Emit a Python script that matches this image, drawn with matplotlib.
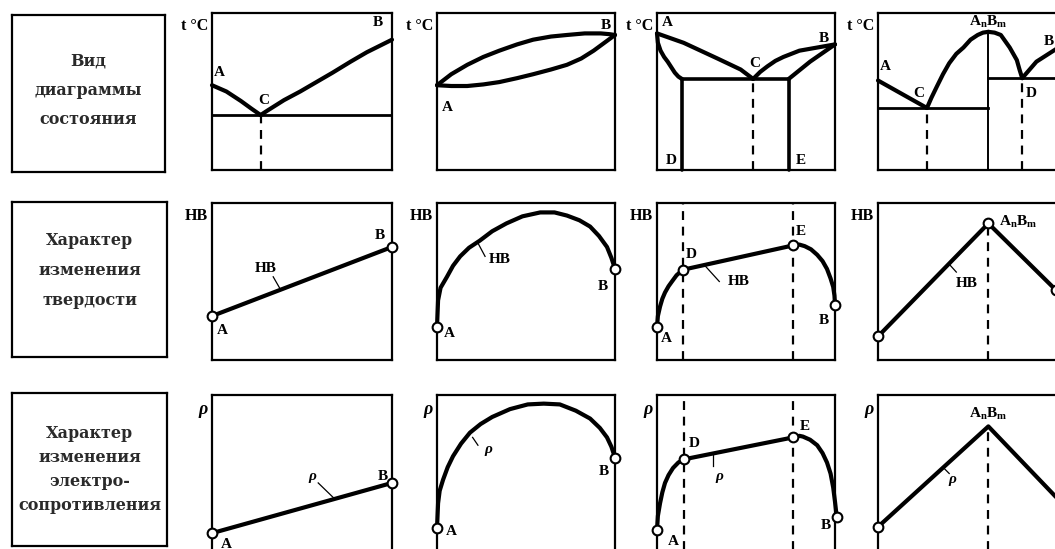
import matplotlib
matplotlib.use('Agg')
import matplotlib.pyplot as plt

plt.rcParams['font.family'] = ['Liberation Serif', 'DejaVu Serif']
plt.rcParams['font.weight'] = 'bold'
plt.rcParams['mathtext.fontset'] = 'custom'
plt.rcParams['mathtext.rm'] = 'Liberation Serif:bold'
plt.rcParams['mathtext.it'] = 'Liberation Serif:bold:italic'

W, H = 1055, 549

# Row titles
row_titles = ['Вид\nдиаграммы\nсостояния',
              'Характер\nизменения\nтвердости',
              'Характер\nизменения\nэлектро-\nсопротивления']
row_axis_labels = ['t °C', 'HB', 'ρ']

# --- Row 1: phase diagrams (x = composition, y = temperature, 0..1) ---
# 1) eutectic
eut_liq_left_x = [0.0, 0.08, 0.16, 0.22, 0.27]
eut_liq_left_y = [0.54, 0.50, 0.44, 0.39, 0.35]
eut_liq_right_x = [0.27, 0.31, 0.40, 0.49, 0.58, 0.67, 0.77, 0.86, 0.93, 1.0]
eut_liq_right_y = [0.35, 0.38, 0.445, 0.50, 0.56, 0.62, 0.69, 0.75, 0.79, 0.83]
eut_line_y = 0.35
eut_point_x = 0.27

# 2) continuous solid solution (lens)
lens_liq_x = [0.0, 0.08, 0.17, 0.26, 0.35, 0.45, 0.54, 0.64, 0.73, 0.83, 0.92, 0.97, 1.0]
lens_liq_y = [0.54, 0.61, 0.67, 0.72, 0.76, 0.80, 0.83, 0.85, 0.86, 0.87, 0.87, 0.865, 0.86]
lens_sol_x = [0.0, 0.08, 0.17, 0.26, 0.35, 0.45, 0.54, 0.64, 0.73, 0.81, 0.88, 0.94, 1.0]
lens_sol_y = [0.54, 0.535, 0.535, 0.545, 0.56, 0.585, 0.61, 0.64, 0.67, 0.71, 0.76, 0.81, 0.86]

# 3) limited solubility
lim_liq_left_x = [0.0, 0.15, 0.34, 0.47, 0.54]
lim_liq_left_y = [0.87, 0.81, 0.71, 0.64, 0.58]
lim_sol_left_x = [0.0, 0.005, 0.02, 0.04, 0.06, 0.08, 0.10, 0.12, 0.14]
lim_sol_left_y = [0.87, 0.81, 0.76, 0.72, 0.69, 0.655, 0.62, 0.595, 0.58]
lim_liq_right_x = [0.54, 0.58, 0.62, 0.665, 0.71, 0.755, 0.80, 0.85, 0.90, 0.95, 1.0]
lim_liq_right_y = [0.58, 0.625, 0.66, 0.695, 0.72, 0.74, 0.76, 0.77, 0.78, 0.79, 0.80]
lim_sol_right_x = [0.74, 0.86, 1.0]
lim_sol_right_y = [0.58, 0.69, 0.80]
lim_line_y = 0.58
lim_d_x, lim_e_x, lim_c_x = 0.14, 0.74, 0.54

# 4) chemical compound
cmp_left_x = [0.0, 0.275]
cmp_left_y = [0.57, 0.395]
cmp_rise_x = [0.275, 0.30, 0.33, 0.365, 0.40, 0.44, 0.48, 0.52, 0.56, 0.59, 0.62]
cmp_rise_y = [0.395, 0.46, 0.53, 0.61, 0.68, 0.74, 0.78, 0.83, 0.86, 0.875, 0.88]
cmp_fall_x = [0.62, 0.655, 0.69, 0.715, 0.74, 0.76, 0.78, 0.795, 0.81]
cmp_fall_y = [0.88, 0.875, 0.86, 0.82, 0.78, 0.74, 0.70, 0.64, 0.585]
cmp_right_x = [0.81, 0.89, 1.0]
cmp_right_y = [0.585, 0.69, 0.77]
cmp_c_y = 0.395
cmp_d_y = 0.585
cmp_c_x, cmp_d_x, cmp_peak_x = 0.275, 0.81, 0.62

# --- Row 2: hardness HB ---
hb1_x = [0.0, 1.0]
hb1_y = [0.28, 0.72]
hb2_x = [0.0, 0.006, 0.02, 0.056, 0.09, 0.13, 0.18, 0.24, 0.31, 0.39, 0.48, 0.58,
         0.66, 0.73, 0.80, 0.86, 0.91, 0.955, 0.98, 1.0]
hb2_y = [0.21, 0.38, 0.46, 0.53, 0.60, 0.66, 0.715, 0.76, 0.82, 0.87, 0.915, 0.94,
         0.94, 0.92, 0.89, 0.85, 0.79, 0.72, 0.65, 0.58]
hb3_ad_x = [0.0, 0.005, 0.017, 0.03, 0.045, 0.065, 0.084, 0.11, 0.146]
hb3_ad_y = [0.21, 0.28, 0.34, 0.39, 0.43, 0.47, 0.50, 0.54, 0.575]
hb3_de_x = [0.146, 0.765]
hb3_de_y = [0.575, 0.73]
hb3_eb_x = [0.765, 0.80, 0.83, 0.865, 0.90, 0.93, 0.955, 0.975, 0.99, 0.997, 1.0]
hb3_eb_y = [0.73, 0.735, 0.725, 0.705, 0.67, 0.63, 0.58, 0.52, 0.465, 0.41, 0.35]
hb4_x = [0.0, 0.62, 1.0]
hb4_y = [0.15, 0.87, 0.445]

# --- Row 3: electrical resistivity rho ---
rho1_x = [0.0, 1.0]
rho1_y = [0.12, 0.44]
rho2_x = [0.0, 0.006, 0.015, 0.034, 0.06, 0.09, 0.135, 0.185, 0.245, 0.31, 0.41, 0.51,
          0.60, 0.69, 0.78, 0.86, 0.915, 0.955, 0.98, 1.0]
rho2_y = [0.15, 0.31, 0.39, 0.46, 0.54, 0.61, 0.69, 0.76, 0.815, 0.86, 0.91, 0.94,
          0.945, 0.94, 0.90, 0.85, 0.79, 0.73, 0.67, 0.60]
rho3_ad_x = [0.0, 0.005, 0.017, 0.03, 0.045, 0.065, 0.09, 0.12, 0.15]
rho3_ad_y = [0.14, 0.23, 0.31, 0.38, 0.44, 0.49, 0.535, 0.57, 0.59]
rho3_de_x = [0.15, 0.765]
rho3_de_y = [0.59, 0.73]
rho3_eb_x = [0.765, 0.80, 0.82, 0.86, 0.90, 0.93, 0.955, 0.975, 0.99, 1.0, 1.01]
rho3_eb_y = [0.73, 0.74, 0.735, 0.715, 0.68, 0.63, 0.57, 0.50, 0.41, 0.32, 0.22]
rho4_x = [0.0, 0.62, 1.0]
rho4_y = [0.16, 0.80, 0.35]

# layout in pixels
col_x = [212, 437, 657, 878]
col_w = [180, 178, 178, 178]
row_y = [13, 203, 395]
row_h = 157
box_rects = [(12, 15, 153, 157), (12, 202, 155, 155), (12, 393, 155, 153)]

LW = 3.0
FS = 11

fig = plt.figure(figsize=(W / 100, H / 100), dpi=100)


def px_axes(left, top, width, height):
    ax = fig.add_axes([left / W, 1 - (top + height) / H, width / W, height / H])
    ax.set_xlim(0, 1)
    ax.set_ylim(0, 1)
    ax.set_xticks([])
    ax.set_yticks([])
    for s in ax.spines.values():
        s.set_linewidth(1.6)
    return ax


def curve(ax, x, y, lw=LW):
    ax.plot(x, y, color='black', lw=lw, solid_capstyle='round',
            solid_joinstyle='round', clip_on=False, zorder=3)


def vdash(ax, x, y0, y1):
    ax.plot([x, x], [y0, y1], color='black', lw=1.6, dashes=(4, 3), zorder=2)


def circles(ax, x, y):
    ax.plot(x, y, 'o', mfc='white', mec='black', ms=7, mew=1.5,
            clip_on=False, zorder=5)


def lab(ax, x, y, s, **kw):
    ax.text(x, y, s, fontsize=FS, fontweight='bold', ha='center', va='center', **kw)


def leader(ax, x0, y0, x1, y1):
    ax.plot([x0, x1], [y0, y1], color='black', lw=0.9, zorder=2)


# row title boxes
for (l, t, w, h), title, ls, yc in zip(box_rects, row_titles, [1.95, 2.0, 1.55], [0.52, 0.555, 0.50]):
    bx = px_axes(l, t, w, h)
    bx.text(0.5, yc, title, ha='center', va='center', family='DejaVu Serif',
            fontsize=11.5, fontweight='bold', linespacing=ls, color='#2a2a2a')

axes = [[px_axes(col_x[c], row_y[r], col_w[c], row_h) for c in range(4)] for r in range(3)]

# axis labels left of each panel
for r in range(3):
    for c in range(4):
        xpx = col_x[c] - 4
        ypx = row_y[r] + (13 if r < 2 else 14)
        if r == 2:
            fig.text(xpx / W, 1 - ypx / H, row_axis_labels[r], ha='right', va='center',
                     fontsize=13, fontweight='bold', fontstyle='italic')
        else:
            fig.text(xpx / W, 1 - ypx / H, row_axis_labels[r], ha='right', va='center',
                     fontsize=11.5, fontweight='bold')

# ---------- row 1 ----------
ax = axes[0][0]
curve(ax, eut_liq_left_x, eut_liq_left_y)
curve(ax, eut_liq_right_x, eut_liq_right_y)
ax.plot([0, 1], [eut_line_y, eut_line_y], color='black', lw=2.0)
vdash(ax, eut_point_x, 0, eut_line_y)
lab(ax, 0.04, 0.62, 'A')
lab(ax, 0.29, 0.44, 'C')
lab(ax, 0.92, 0.94, 'B')

ax = axes[0][1]
curve(ax, lens_liq_x, lens_liq_y)
curve(ax, lens_sol_x, lens_sol_y)
lab(ax, 0.06, 0.40, 'A')
lab(ax, 0.95, 0.92, 'B')

ax = axes[0][2]
curve(ax, lim_liq_left_x, lim_liq_left_y)
curve(ax, lim_sol_left_x, lim_sol_left_y)
curve(ax, lim_liq_right_x, lim_liq_right_y)
curve(ax, lim_sol_right_x, lim_sol_right_y)
curve(ax, [lim_d_x, lim_e_x], [lim_line_y, lim_line_y], lw=2.6)
curve(ax, [lim_d_x, lim_d_x], [0, lim_line_y], lw=2.6)
curve(ax, [lim_e_x, lim_e_x], [0, lim_line_y], lw=2.6)
vdash(ax, lim_c_x, 0, lim_line_y)
lab(ax, 0.06, 0.94, 'A')
lab(ax, 0.55, 0.68, 'C')
lab(ax, 0.94, 0.84, 'B')
lab(ax, 0.08, 0.06, 'D')
lab(ax, 0.81, 0.06, 'E')

ax = axes[0][3]
curve(ax, cmp_left_x, cmp_left_y)
curve(ax, cmp_rise_x, cmp_rise_y)
curve(ax, cmp_fall_x, cmp_fall_y)
curve(ax, cmp_right_x, cmp_right_y)
ax.plot([0, cmp_peak_x], [cmp_c_y, cmp_c_y], color='black', lw=2.0)
ax.plot([cmp_peak_x, 1], [cmp_d_y, cmp_d_y], color='black', lw=2.0)
ax.plot([cmp_peak_x, cmp_peak_x], [0, cmp_rise_y[-1]], color='black', lw=1.4)
vdash(ax, cmp_c_x, 0, cmp_c_y)
vdash(ax, cmp_d_x, 0, cmp_d_y)
lab(ax, 0.04, 0.66, 'A')
lab(ax, 0.23, 0.49, 'C')
lab(ax, 0.62, 0.945, r'$\mathrm{A_nB_m}$')
lab(ax, 0.86, 0.49, 'D')
lab(ax, 0.96, 0.82, 'B')

# ---------- row 2 ----------
ax = axes[1][0]
curve(ax, hb1_x, hb1_y)
circles(ax, hb1_x, hb1_y)
leader(ax, 0.34, 0.53, 0.38, 0.45)
lab(ax, 0.30, 0.58, 'HB')
lab(ax, 0.06, 0.19, 'A')
lab(ax, 0.93, 0.79, 'B')

ax = axes[1][1]
curve(ax, hb2_x, hb2_y)
circles(ax, [hb2_x[0], hb2_x[-1]], [hb2_y[0], hb2_y[-1]])
leader(ax, 0.23, 0.745, 0.27, 0.66)
lab(ax, 0.35, 0.64, 'HB')
lab(ax, 0.07, 0.17, 'A')
lab(ax, 0.93, 0.47, 'B')

ax = axes[1][2]
curve(ax, hb3_ad_x, hb3_ad_y)
curve(ax, hb3_de_x, hb3_de_y)
curve(ax, hb3_eb_x, hb3_eb_y)
vdash(ax, hb3_de_x[0], 0, 1)
vdash(ax, hb3_de_x[-1], 0, 1)
circles(ax, [hb3_ad_x[0], hb3_de_x[0], hb3_de_x[-1], hb3_eb_x[-1]],
        [hb3_ad_y[0], hb3_de_y[0], hb3_de_y[-1], hb3_eb_y[-1]])
leader(ax, 0.27, 0.60, 0.35, 0.50)
lab(ax, 0.46, 0.50, 'HB')
lab(ax, 0.19, 0.67, 'D')
lab(ax, 0.81, 0.82, 'E')
lab(ax, 0.05, 0.14, 'A')
lab(ax, 0.94, 0.25, 'B')

ax = axes[1][3]
curve(ax, hb4_x, hb4_y)
vdash(ax, hb4_x[1], 0, hb4_y[1])
circles(ax, hb4_x, hb4_y)
leader(ax, 0.40, 0.61, 0.44, 0.56)
lab(ax, 0.50, 0.49, 'HB')
lab(ax, 0.79, 0.88, r'$\mathrm{A_nB_m}$')

# ---------- row 3 ----------
RHO = dict(fontstyle='italic')

ax = axes[2][0]
curve(ax, rho1_x, rho1_y)
circles(ax, rho1_x, rho1_y)
leader(ax, 0.59, 0.44, 0.68, 0.34)
lab(ax, 0.56, 0.48, 'ρ', **RHO)
lab(ax, 0.08, 0.05, 'A')
lab(ax, 0.95, 0.48, 'B')

ax = axes[2][1]
curve(ax, rho2_x, rho2_y)
circles(ax, [rho2_x[0], rho2_x[-1]], [rho2_y[0], rho2_y[-1]])
leader(ax, 0.20, 0.73, 0.23, 0.68)
lab(ax, 0.29, 0.65, 'ρ', **RHO)
lab(ax, 0.08, 0.13, 'A')
lab(ax, 0.935, 0.51, 'B')

ax = axes[2][2]
curve(ax, rho3_ad_x, rho3_ad_y)
curve(ax, rho3_de_x, rho3_de_y)
curve(ax, rho3_eb_x, rho3_eb_y)
vdash(ax, rho3_de_x[0], 0, 1)
vdash(ax, rho3_de_x[-1], 0, 1)
circles(ax, [rho3_ad_x[0], rho3_de_x[0], rho3_de_x[-1], rho3_eb_x[-1]],
        [rho3_ad_y[0], rho3_de_y[0], rho3_de_y[-1], rho3_eb_y[-1]])
leader(ax, 0.315, 0.615, 0.315, 0.55)
lab(ax, 0.35, 0.48, 'ρ', **RHO)
lab(ax, 0.21, 0.69, 'D')
lab(ax, 0.83, 0.80, 'E')
lab(ax, 0.09, 0.07, 'A')
lab(ax, 0.95, 0.17, 'B')

ax = axes[2][3]
curve(ax, rho4_x, rho4_y)
vdash(ax, rho4_x[1], 0, rho4_y[1])
circles(ax, [rho4_x[0]], [rho4_y[0]])
leader(ax, 0.365, 0.54, 0.40, 0.50)
lab(ax, 0.42, 0.46, 'ρ', **RHO)
lab(ax, 0.62, 0.88, r'$\mathrm{A_nB_m}$')

fig.savefig('out.png', dpi=100)
